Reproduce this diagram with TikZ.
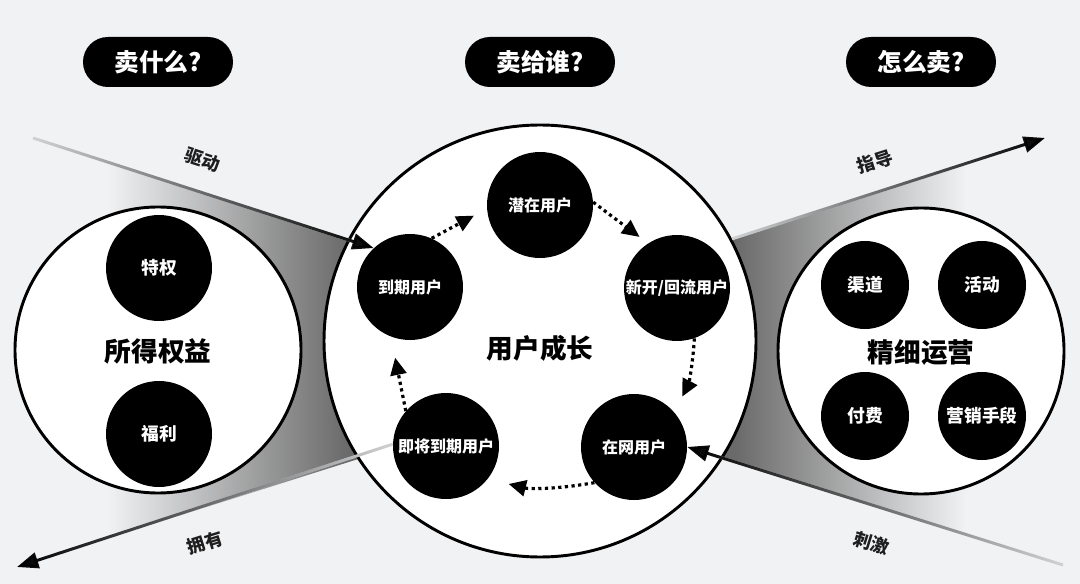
\documentclass[tikz,border=0pt]{standalone}
\usepackage{fontspec}
\setmainfont{Noto Sans CJK SC}
\usetikzlibrary{arrows.meta,fadings,calc}
\definecolor{bg}{HTML}{F1F2F4}
\definecolor{wedge}{HTML}{6A6A6A}
\definecolor{lightline}{HTML}{D2D3D5}
\definecolor{lbltext}{HTML}{1E1E1E}
\pgfdeclarehorizontalshading{lwedge}{100bp}{color(0bp)=(bg); color(37bp)=(bg); color(69bp)=(wedge); color(100bp)=(wedge)}
\pgfdeclarehorizontalshading{rwedge}{100bp}{color(0bp)=(wedge); color(31bp)=(wedge); color(62bp)=(bg); color(100bp)=(bg)}
\tikzfading[name=fadein, left color=transparent!100, middle color=transparent!35, right color=transparent!0]
\tikzfading[name=fadeout, left color=transparent!0, middle color=transparent!35, right color=transparent!100]
\tikzset{
  pill/.style={fill=black, text=white, minimum width=112.5pt, minimum height=37.5pt, rounded corners=18.7pt, inner sep=0pt, font=\bfseries\fontsize{18.5}{19}\selectfont},
  bigcirc/.style={circle, draw=black, line width=2.2pt, fill=white, inner sep=0pt, minimum size=#1},
  dot/.style={circle, fill=black, text=white, inner sep=0pt, minimum size=#1},
  usertext/.style={font=\bfseries\fontsize{12}{12}\selectfont},
  sidetext/.style={font=\bfseries\fontsize{13.3}{14}\selectfont},
  headtext/.style={font=\bfseries\fontsize{20}{20}\selectfont, text=black, inner sep=0pt},
  lbl/.style={font=\bfseries\fontsize{13.5}{14}\selectfont, text=lbltext, inner sep=0pt},
  dotarrow/.style={line width=2.4pt, dash pattern=on 2.4pt off 2.6pt, -{Triangle[length=13pt,width=12pt]}},
  bigarrow/.style={line width=2.2pt, -{Triangle[length=16pt,width=12pt]}},
  underlay/.style={line width=2.2pt, draw=lightline},
}
\begin{document}
\begin{tikzpicture}[x=0.75pt,y=-0.75pt]
\useasboundingbox (0,0) rectangle (1080,584);
\fill[bg] (0,0) rectangle (1080,584);

% gradient wedges
\shade[shading=lwedge] (33,138) -- (373,247) -- (393,448) -- (17,567) -- cycle;
\shade[shading=rwedge] (731,239) -- (1045,138) -- (1063,565) -- (690,448) -- cycle;

% pills
\node[pill] (q1) at (158,62) {卖什么?};
\node[pill] (q2) at (540,62) {卖给谁?};
\node[pill] (q3) at (921,62) {怎么卖?};

% big circles
\node[bigcirc=214.5pt] (L) at (158,350) {};
\node[bigcirc=214.5pt] (R) at (921,351) {};
\node[bigcirc=324pt] (C) at (540,341) {};

% left contents
\node[dot=79.5pt, sidetext] (tq) at (159,268) {特权};
\node[dot=79.5pt, sidetext] (fl) at (159,434) {福利};
\node[headtext] (Lt) at (158,351) {所得权益};

% right contents
\node[dot=66pt, sidetext] (qd) at (865,285) {渠道};
\node[dot=66pt, sidetext] (hd) at (982,285) {活动};
\node[dot=66pt, sidetext] (ff) at (865,416) {付费};
\node[dot=66pt, sidetext] (yx) at (982,416) {营销手段};
\node[headtext] (Rt) at (921,352) {精细运营};

% center contents
\node[dot=79.5pt, usertext] (P) at (540,205) {潜在用户};
\node[dot=79.5pt, usertext] (N) at (677,288) {新开/回流用户};
\node[dot=79.5pt, usertext] (W) at (634,447) {在网用户};
\node[dot=79.5pt, usertext] (J) at (446,446) {即将到期用户};
\node[dot=79.5pt, usertext] (E) at (410,287) {到期用户};
\node[headtext] (Ct) at (540,348) {用户成长};

% cycle arrows
\draw[dotarrow, shorten >=11pt] (E.66) -- (P.184);
\draw[dotarrow, shorten >=8pt] (P.3) -- (N.123);
\draw[dotarrow, shorten >=13pt] (N.-71) to[bend left=12] (W.41);
\draw[dotarrow, shorten >=16pt] (W.222) to[bend left=12] (J.-38);
\draw[dotarrow, shorten >=16pt] (J.139) -- (E.249);

% big arrows
\coordinate (d0) at (33,138);
\coordinate (y0) at (17,567);
\coordinate (g0) at (1045,138);
\coordinate (s0) at (1063,565);

\draw[underlay, shorten >=12pt] (d0) -- (E.133);
\draw[bigarrow, path fading=fadein] (d0) -- (E.133);
\draw[underlay, shorten >=12pt] (J.178) -- (y0);
\draw[bigarrow, path fading=fadeout] (J.178) -- (y0);
\draw[underlay, shorten >=12pt] (C.28) -- (g0);
\draw[bigarrow, path fading=fadein] (C.28) -- (g0);
\draw[underlay, shorten >=12pt] (s0) -- (W.0);
\draw[bigarrow, path fading=fadeout] (s0) -- (W.0);

% arrow labels
\node[lbl, rotate=-18] (l1) at (203,160) {驱动};
\node[lbl, rotate=17.6] (l2) at (205,543) {拥有};
\node[lbl, rotate=17.6] (l3) at (875,162) {指导};
\node[lbl, rotate=-17.4] (l4) at (872,543) {刺激};
\end{tikzpicture}
\end{document}
